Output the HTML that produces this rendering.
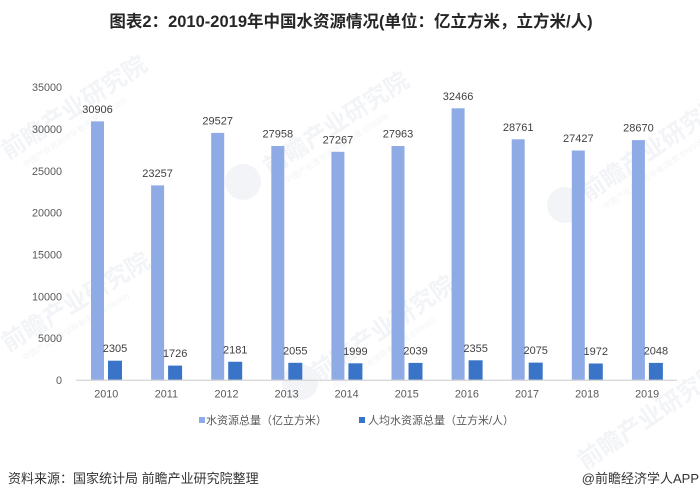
<!DOCTYPE html>
<html>
<head>
<meta charset="utf-8">
<style>
  html,body{margin:0;padding:0;background:#fff;}
  svg{display:block;font-family:"Liberation Sans","Noto Sans CJK SC",sans-serif;}
</style>
</head>
<body>
<svg width="700" height="491" viewBox="0 0 700 491" xmlns="http://www.w3.org/2000/svg">
  <rect width="700" height="491" fill="#fff"/>

  <!-- watermarks -->
  <g fill="#f2f4f7" font-weight="bold" font-size="24">
    <g transform="translate(8,160) rotate(-33)">
      <text x="0" y="0">前瞻产业研究院</text>
      <text x="10" y="16" font-size="8" font-weight="normal">中国产业咨询领导者(股票:839599)</text>
    </g>
    <g transform="translate(8,352) rotate(-31)">
      <text x="0" y="0">前瞻产业研究院</text>
      <text x="10" y="16" font-size="8" font-weight="normal">中国产业咨询领导者(股票:839599)</text>
    </g>
    <circle cx="243" cy="182" r="18"/>
    <g transform="translate(270,176) rotate(-33)">
      <text x="0" y="0">前瞻产业研究院</text>
      <text x="10" y="16" font-size="8" font-weight="normal">中国产业咨询领导者(股票:839599)</text>
    </g>
    <circle cx="300" cy="382" r="18"/>
    <g transform="translate(318,382) rotate(-34)">
      <text x="0" y="0">前瞻产业研究院</text>
      <text x="10" y="16" font-size="8" font-weight="normal">中国产业咨询领导者(股票:839599)</text>
    </g>
    <circle cx="565" cy="205" r="18"/>
    <g transform="translate(588,202) rotate(-34)">
      <text x="0" y="0">前瞻产业研究院</text>
      <text x="10" y="16" font-size="8" font-weight="normal">中国产业咨询领导者(股票:839599)</text>
    </g>
    <g transform="translate(585,470) rotate(-34)">
      <text x="0" y="0">前瞻产业研究院</text>
    </g>
  </g>

  <!-- title -->
  <text x="351" y="27" text-anchor="middle" font-size="16.5" font-weight="bold" fill="#262626">图表2：2010-2019年中国水资源情况(单位：亿立方米，立方米/人)</text>

  <!-- y axis labels -->
  <g font-size="10.8" fill="#595959" text-anchor="end">
    <text x="62" y="384">0</text>
    <text x="62" y="342.2">5000</text>
    <text x="62" y="300.3">10000</text>
    <text x="62" y="258.5">15000</text>
    <text x="62" y="216.6">20000</text>
    <text x="62" y="174.8">25000</text>
    <text x="62" y="132.9">30000</text>
    <text x="62" y="91.1">35000</text>
  </g>

  <!-- big bars -->
  <g fill="#8eabe6">
    <rect x="91.0" y="121.4" width="13" height="258.6"/>
    <rect x="151.1" y="185.4" width="13" height="194.6"/>
    <rect x="211.2" y="132.9" width="13" height="247.1"/>
    <rect x="271.3" y="146.0" width="13" height="234.0"/>
    <rect x="331.4" y="151.8" width="13" height="228.2"/>
    <rect x="391.5" y="146.0" width="13" height="234.0"/>
    <rect x="451.6" y="108.3" width="13" height="271.7"/>
    <rect x="511.7" y="139.3" width="13" height="240.7"/>
    <rect x="571.8" y="150.5" width="13" height="229.5"/>
    <rect x="631.9" y="140.1" width="13" height="239.9"/>
  </g>

  <!-- small bars -->
  <g fill="#3a74c8">
    <rect x="108.0" y="360.7" width="14" height="19.3"/>
    <rect x="168.1" y="365.6" width="14" height="14.4"/>
    <rect x="228.2" y="361.75" width="14" height="18.25"/>
    <rect x="288.3" y="362.8" width="14" height="17.2"/>
    <rect x="348.4" y="363.3" width="14" height="16.7"/>
    <rect x="408.5" y="362.9" width="14" height="17.1"/>
    <rect x="468.6" y="360.3" width="14" height="19.7"/>
    <rect x="528.7" y="362.6" width="14" height="17.4"/>
    <rect x="588.8" y="363.5" width="14" height="16.5"/>
    <rect x="648.9" y="362.9" width="14" height="17.1"/>
  </g>

  <!-- axis line -->
  <line x1="76" y1="380.3" x2="677" y2="380.3" stroke="#d9d9d9" stroke-width="1.4"/>

  <!-- data labels big -->
  <g font-size="11" fill="#404040" text-anchor="middle">
    <text x="97.5" y="112.9">30906</text>
    <text x="157.6" y="176.9">23257</text>
    <text x="217.7" y="124.4">29527</text>
    <text x="277.8" y="137.5">27958</text>
    <text x="337.9" y="143.3">27267</text>
    <text x="398.0" y="137.5">27963</text>
    <text x="458.1" y="99.8">32466</text>
    <text x="518.2" y="130.8">28761</text>
    <text x="578.3" y="142.0">27427</text>
    <text x="638.4" y="131.6">28670</text>
  </g>

  <!-- data labels small -->
  <g font-size="11" fill="#404040" text-anchor="middle">
    <text x="115.0" y="352.2">2305</text>
    <text x="175.1" y="357.1">1726</text>
    <text x="235.2" y="353.3">2181</text>
    <text x="295.3" y="354.3">2055</text>
    <text x="355.4" y="354.8">1999</text>
    <text x="415.5" y="354.4">2039</text>
    <text x="475.6" y="351.8">2355</text>
    <text x="535.7" y="354.1">2075</text>
    <text x="595.8" y="355.0">1972</text>
    <text x="655.9" y="354.4">2048</text>
  </g>

  <!-- x labels -->
  <g font-size="10.8" fill="#595959" text-anchor="middle">
    <text x="106.3" y="397.5">2010</text>
    <text x="166.4" y="397.5">2011</text>
    <text x="226.5" y="397.5">2012</text>
    <text x="286.6" y="397.5">2013</text>
    <text x="346.7" y="397.5">2014</text>
    <text x="406.8" y="397.5">2015</text>
    <text x="466.9" y="397.5">2016</text>
    <text x="527.0" y="397.5">2017</text>
    <text x="587.1" y="397.5">2018</text>
    <text x="647.2" y="397.5">2019</text>
  </g>

  <!-- legend -->
  <rect x="199" y="417" width="6" height="6" fill="#8eabe6"/>
  <text x="206" y="424" font-size="11" fill="#595959">水资源总量（亿立方米）</text>
  <rect x="359" y="417" width="6" height="6" fill="#3a74c8"/>
  <text x="368" y="424" font-size="11" fill="#595959">人均水资源总量（立方米/人）</text>

  <!-- footer -->
  <text x="8" y="483" font-size="13" fill="#333">资料来源：国家统计局 前瞻产业研究院整理</text>
  <text x="699" y="483" font-size="13" fill="#333" text-anchor="end">@前瞻经济学人APP</text>
</svg>
</body>
</html>
